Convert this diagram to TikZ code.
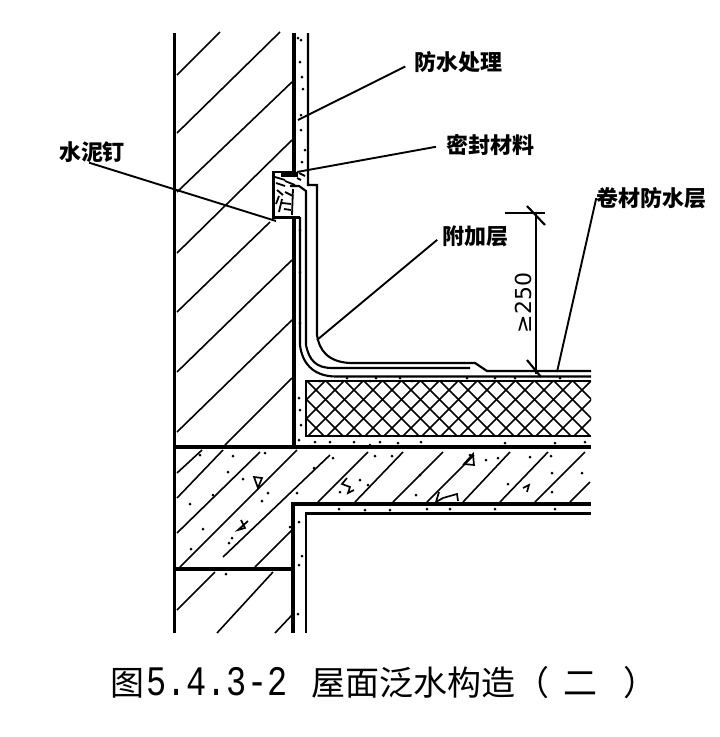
\documentclass[tikz,border=0pt]{standalone}
\usepackage{fontspec}
\setmainfont{DejaVu Sans}
\newfontfamily\cjk{Noto Sans CJK SC}
\newfontfamily\capmono{Liberation Mono}
\tikzset{
  wallthick/.style={line width=3.8pt},
  medline/.style={line width=2.1pt},
  hatchline/.style={line width=1.6pt},
  leaderline/.style={line width=1.9pt},
  lbl/.style={font=\cjk\bfseries\fontsize{22}{22}\selectfont,inner sep=0pt},
  speck/.style={fill=black,draw=none},
}
\begin{document}
\begin{tikzpicture}[x=1pt,y=-1pt,line cap=butt]
\useasboundingbox (0,0) rectangle (720,737);
\fill[white] (0,0) rectangle (720,737);
% wall hatch
\foreach \a/\b/\c/\d in {177/75/220/32, 177/133/280/32, 177/192/292/82, 177/253/292/140, 177/312/270/222,
  177/372/292/260, 177/432/292/320, 225/445/292/378,
  177/473/202/450, 177/498/223/450, 177/533/260/452, 180/567/297/450, 223/557/330/455,
  255/567/292/530, 177/610/215/572, 217/633/273/572, 275/633/292/615,
  318/502/368/452, 355/502/403/452, 393/502/443/452, 427/502/474/455, 463/502/510/452,
  500/502/548/452, 535/502/585/452, 570/502/590/482}
  \draw[hatchline] (\a,\b) -- (\c,\d);
% insulation cross-hatch
\begin{scope}
\clip (306,381) rectangle (591,436);
\foreach \i in {0,...,20}{
  \draw[line width=1.5pt] ({250+19*\i},381) -- ({250+19*\i+55},436);
  \draw[line width=1.5pt] ({306+19*\i},381) -- ({306+19*\i-55},436);
}
\end{scope}
\draw[medline] (591,381) -- (306,381) -- (306,436) -- (591,436);
% structural lines
\draw[wallthick] (174.5,33) -- (174.5,633);
\draw[wallthick] (294,33) -- (294,172);
\draw[wallthick] (294,217) -- (294,447);
\draw[line width=4.2pt] (174,447) -- (591,447);
\draw[wallthick] (174,569) -- (293,569);
\draw[medline] (308,33) -- (308,185) -- (317,185) -- (317,335)
  .. controls (319,350) and (328,362) .. (350,363) -- (475,363) -- (487,371) -- (591,371);
\draw[line width=3.4pt] (293,633) -- (293,504) -- (591,504);
\draw[medline] (306,633) -- (306,513.5) -- (591,513.5);
% layers
\draw[medline] (290,186) -- (299,186) -- (306,191) -- (306,345)
  .. controls (309,360) and (316,368) .. (332,368) -- (470,368);
\draw[medline] (300,217) -- (300,345) .. controls (302,362) and (312,376) .. (335,376.5) -- (591,376.5);
% end box
\draw[line width=2.4pt] (293,172) -- (273.5,172) -- (273.5,217.5) -- (300,217.5);
\draw[line width=5pt] (281,174.5) -- (298,174.5);
\foreach \a/\b/\c/\d in {275/177/285/180, 276/183/285/186, 285/181/295/185, 277/190/283/195, 285/192/293/196, 279/196/276/204,
  282/203/291/204, 284/209/291/210, 282/199/279/212, 297/178/301/180, 299/173/305/176, 293/189/292/215}
  \draw[line width=1.8pt] (\a,\b) -- (\c,\d);
% specks
\foreach \x/\y in {301/40,300/62,302/77,303/89,301/115,301/130,302/162,305/150,298/38,
  300/230,300/272,300/323,299/398,300/410,301/425,299/440,
  310/446,200/455,233/456,265/453,228/472,243/479,190/504,213/495,203/529,191/549,226/574,
  229/543,232/538,262/501,268/493,290/527,299/522,299/565,302/556,298/614,
  375/456,333/458,314/468,360/480,368/485,340/492,416/495,470/455,486/460,498/458,
  508/484,530/457,551/456,552/473,582/473,552/492,392/456,420/475,297/493,370/445,398/443,
  505/443,555/443,585/442,421/442,315/442,330/442,354/442,380/442,
  365/510,390/510,427/509,450/509,495/509,555/509,339/509,
  376/378,347/378,400/378,467/378,495/378,515/378,560/378,
  320/381,370/381,412/381}
  \fill[speck] (\x,\y) circle (1.5pt);
% aggregate marks
\draw[line width=1.7pt] (347,478) -- (342,484) -- (350,487) -- (348,493) -- (354,490);
\draw[line width=1.7pt] (473,454) -- (464,464) -- (474,465) -- cycle;
\draw[line width=1.7pt] (439,492) -- (436,502) -- (443,498) -- (457,494) -- (458,501);
\draw[line width=1.7pt] (523,488) -- (529,485) -- (527,492);
\draw[line width=1.7pt] (258,488) -- (254,477) -- (262,478) -- cycle;
\draw[line width=1.7pt] (241,520) -- (245,528) -- (238,530) -- (248,521);
% labels
\node[lbl] (fs) at (458.5,62) {防水处理};
\node[lbl] (mf) at (490,145) {密封材料};
\node[lbl] (sn) at (92,152) {水泥钉};
\node[lbl] (fj) at (475,236) {附加层};
\node[lbl] (jc) at (651.5,198) {卷材防水层};
\node[font=\fontsize{22}{22}\selectfont,inner sep=0pt,rotate=90] (dim) at (523,303) {≥250};
\node[inner sep=0pt,anchor=west,font=\cjk\fontsize{34}{34}\selectfont] (cap) at (110,683)
  {图\hspace{2pt}\scalebox{0.80}[1]{\capmono\fontsize{42}{42}\selectfont 5.4.3-2}\hspace{24pt}屋面泛水构造（\hspace{14pt}二\hspace{26pt}）};
% leaders
\coordinate (fsend) at (298,120);
\coordinate (mfend) at (297,172);
\coordinate (snend) at (276,221);
\coordinate (fjend) at (317,340);
\coordinate (jcend) at (557,372);
\draw[leaderline,shorten <=10pt] (fs.west) -- (fsend);
\draw[leaderline,shorten <=10pt] (mf.west) -- (mfend);
\draw[leaderline] (sn.255) -- (snend);
\draw[leaderline,shorten <=6pt] (fj.west) -- (fjend);
\draw[leaderline] (jc.west) -- (jcend);
% dimension
\coordinate (dtop) at (536,213);
\coordinate (dbot) at (536,374);
\draw[line width=1.9pt] (dtop) -- (dbot);
\draw[line width=1.9pt] (505,213) -- (545,213);
\draw[line width=2.1pt] (527,206) -- (545,225);
\draw[line width=2.1pt] (527,360) -- (541,377);
\end{tikzpicture}
\end{document}
